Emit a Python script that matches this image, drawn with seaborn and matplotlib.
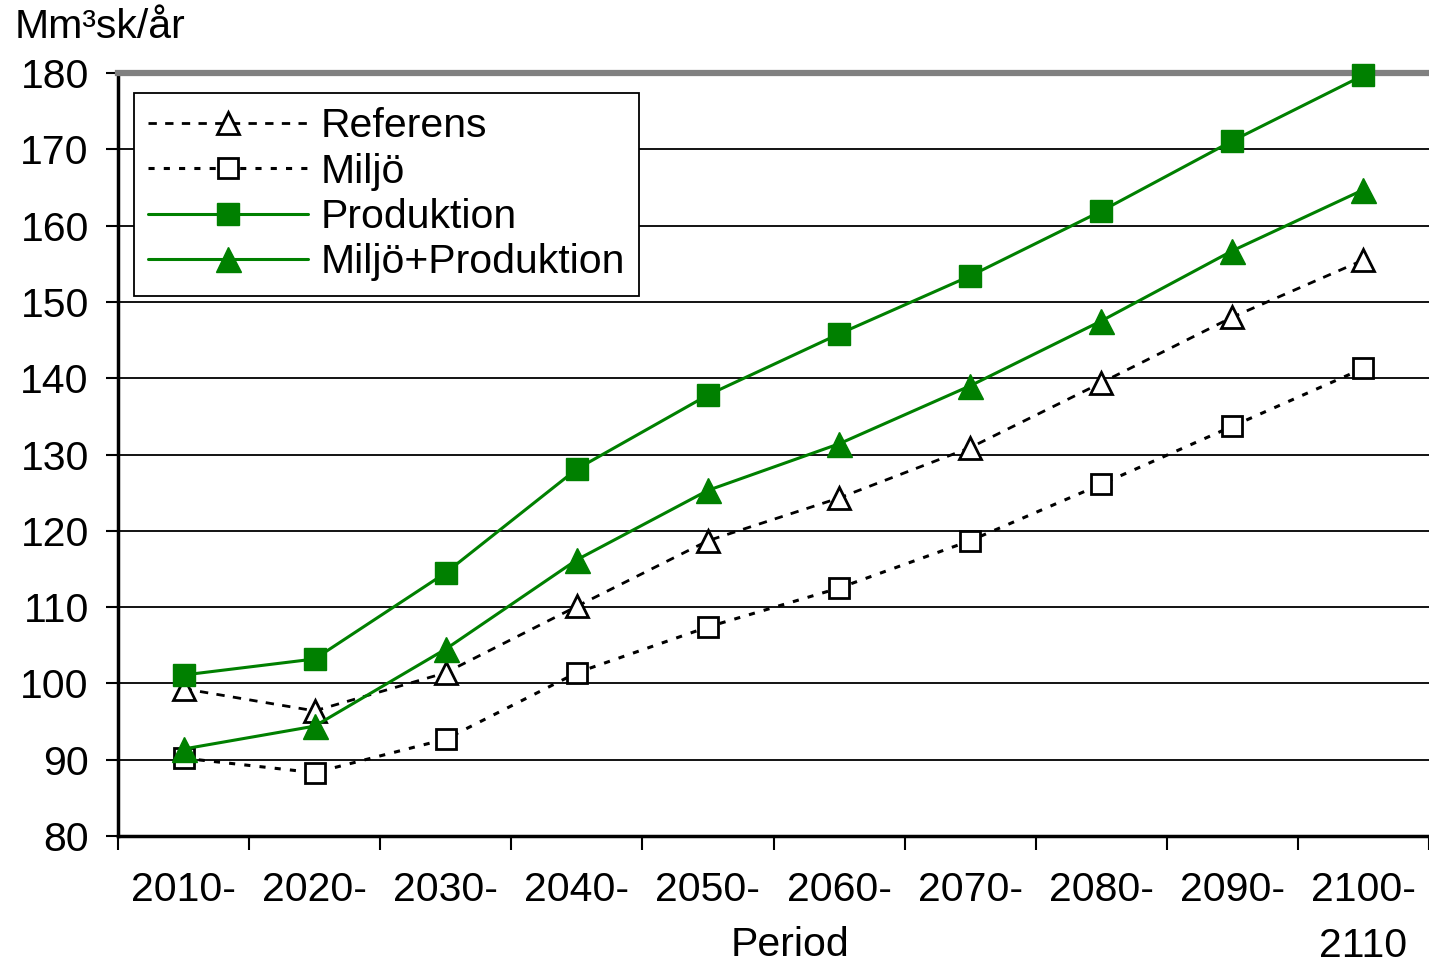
import numpy as np
import pandas as pd
import seaborn as sns
import matplotlib
matplotlib.use("Agg")
import matplotlib.pyplot as plt

# data
periods = ["2010-", "2020-", "2030-", "2040-", "2050-", "2060-",
           "2070-", "2080-", "2090-", "2100-\n2110"]
referens = [99.3, 96.4, 101.4, 110.1, 118.7, 124.3, 130.9, 139.4, 148.0, 155.5]
miljo = [90.2, 88.3, 92.7, 101.4, 107.4, 112.5, 118.7, 126.1, 133.7, 141.3]
produktion = [101.1, 103.2, 114.5, 128.1, 137.8, 145.8, 153.4, 161.9, 171.1, 179.7]
miljo_prod = [91.4, 94.4, 104.5, 116.2, 125.3, 131.4, 139.0, 147.5, 156.7, 164.7]

sns.set_style("white")
plt.rcParams['font.family'] = ['Liberation Sans', 'DejaVu Sans']
plt.rcParams['text.color'] = 'black'
plt.rcParams['xtick.color'] = 'black'
plt.rcParams['ytick.color'] = 'black'
FS = 29.5

pos = np.arange(len(periods))
df = pd.DataFrame({"pos": pos, "Referens": referens, "Miljö": miljo,
                   "Produktion": produktion, "Miljö+Produktion": miljo_prod})

fig = plt.figure(figsize=(14.29, 9.64), dpi=100)
ax = fig.add_axes([118 / 1429, 128 / 964, 1 - 118 / 1429, (836 - 73) / 964])

green = "#008000"
sns.lineplot(data=df, x="pos", y="Referens", ax=ax, label="Referens",
             color="black", linewidth=2, linestyle=(0, (3, 3)),
             marker="^", markersize=16, markerfacecolor="white",
             markeredgecolor="black", markeredgewidth=2, zorder=4, clip_on=False)
sns.lineplot(data=df, x="pos", y="Miljö", ax=ax, label="Miljö",
             color="black", linewidth=2.2, linestyle=(0, (2, 3)),
             marker="s", markersize=14, markerfacecolor="white",
             markeredgecolor="black", markeredgewidth=2, zorder=4, clip_on=False)
sns.lineplot(data=df, x="pos", y="Produktion", ax=ax, label="Produktion",
             color=green, linewidth=2.2, marker="s", markersize=16,
             markerfacecolor=green, markeredgecolor=green, markeredgewidth=1,
             zorder=4, clip_on=False)
sns.lineplot(data=df, x="pos", y="Miljö+Produktion", ax=ax, label="Miljö+Produktion",
             color=green, linewidth=2.2, marker="^", markersize=18,
             markerfacecolor=green, markeredgecolor=green, markeredgewidth=1,
             zorder=4, clip_on=False)

ax.set_xlim(-0.5, len(periods) - 0.5)
ax.set_ylim(80, 180)
ax.set_yticks(np.arange(80, 181, 10))
ax.yaxis.grid(True, color="black", linewidth=1.3)
ax.xaxis.grid(False)

# ticks between categories, labels at category centres
ax.set_xticks(np.arange(-0.5, len(periods) - 0.4, 1.0))
ax.set_xticklabels([])
ax.set_xticks(pos, minor=True)
ax.set_xticklabels(periods, minor=True, fontsize=FS)
for lab in ax.get_xticklabels(minor=True):
    lab.set_linespacing(1.6)
ax.tick_params(axis="x", which="major", direction="out", length=10, width=1.5,
               color="black", bottom=True)
ax.tick_params(axis="x", which="minor", length=0, pad=25)
ax.tick_params(axis="y", direction="out", length=9, width=1.5, color="black",
               labelsize=FS, pad=12, left=True)
ax.set_xlabel("")
ax.set_ylabel("")

for s in ["left", "bottom"]:
    ax.spines[s].set_color("black")
    ax.spines[s].set_linewidth(2.5)
ax.spines["right"].set_visible(False)
ax.spines["top"].set_color("#808080")
ax.spines["top"].set_linewidth(4.5)

leg = ax.legend(loc="upper left", bbox_to_anchor=(0.012, 0.974), borderaxespad=0,
                fontsize=FS, frameon=True, fancybox=False, edgecolor="black",
                framealpha=1, handlelength=3.9, handletextpad=0.3,
                labelspacing=0.18, borderpad=0.35, numpoints=1)
leg.get_frame().set_linewidth(1.3)

fig.text(15 / 1429, 1 - 27 / 964, "Mm³sk/år", fontsize=FS, ha="left", va="center")
fig.text(790 / 1429, 1 - 945 / 964, "Period", fontsize=FS, ha="center", va="center")

fig.savefig("out.png", dpi=100)
